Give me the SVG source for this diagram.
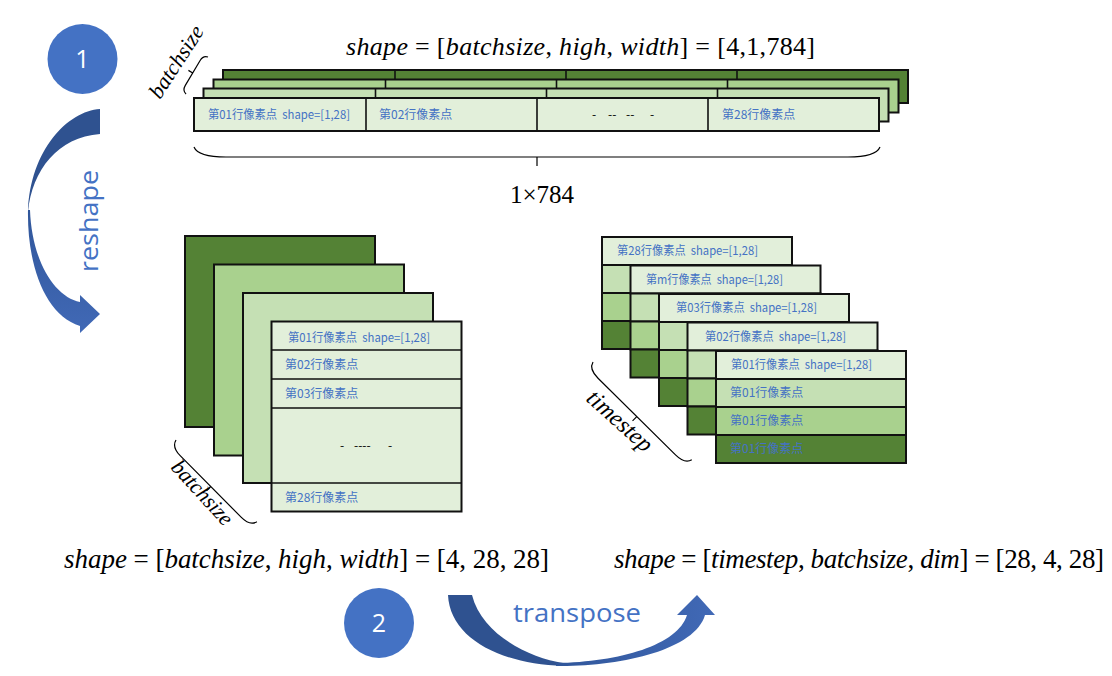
<svg xmlns="http://www.w3.org/2000/svg" width="1112" height="676" viewBox="0 0 1112 676">
<style>
.cell{stroke:#111;stroke-width:2}
.div{stroke:#111;stroke-width:1.6;fill:none}
.g1{fill:#e2efda}.g2{fill:#c5e0b4}.g3{fill:#a9d18e}.g4{fill:#548235}
.lbl{font-family:"Noto Sans CJK SC","Noto Sans",sans-serif;font-size:12px;fill:#4472c4}
.dash{font-family:"Noto Sans CJK SC","Noto Sans",sans-serif;font-size:12px;fill:#000}
.eq{font-family:"Liberation Serif","Times New Roman",serif;fill:#000}
.i{font-style:italic}
.brace{fill:none;stroke:#000;stroke-width:1.2}
.num{font-family:"Open Sans","Liberation Sans",sans-serif;font-size:25px;fill:#fff;text-anchor:middle}
.op{font-family:"Open Sans","Liberation Sans",sans-serif;font-size:25px;fill:#4472c4}
</style>
<defs>
<linearGradient id="gRes" x1="0" y1="0" x2="0" y2="1">
<stop offset="0" stop-color="#30569a"/><stop offset="1" stop-color="#4169b6"/>
</linearGradient>
<linearGradient id="gTr" x1="0" y1="0" x2="1" y2="0">
<stop offset="0" stop-color="#30569a"/><stop offset="1" stop-color="#4169b6"/>
</linearGradient>
</defs>
<rect width="1112" height="676" fill="#fff"/>

<!-- top equation -->
<g id="eq-top">
<text class="eq" x="346" y="55" font-size="26" textLength="469" lengthAdjust="spacing"><tspan class="i">shape</tspan> = [<tspan class="i">batchsize</tspan>, <tspan class="i">high</tspan>, <tspan class="i">width</tspan>] = [4,1,784]</text>
</g>

<!-- circle 1 -->
<g id="step1">
<circle cx="82.5" cy="59" r="35" fill="#4472c4"/>
<text class="num" x="82.5" y="68">1</text>
</g>

<!-- top strip -->
<g id="top-strip">
<rect class="cell g4" x="223" y="70" width="685" height="33"/>
<path class="div" d="M395,70V103M566,70V103M737,70V103"/>
<rect class="cell g3" x="213.5" y="79.5" width="685" height="33"/>
<path class="div" d="M385.5,79.5V112.5M556.5,79.5V112.5M727.5,79.5V112.5"/>
<rect class="cell g2" x="203.5" y="88.5" width="685" height="33"/>
<path class="div" d="M375.5,88.5V121.5M546.5,88.5V121.5M717.5,88.5V121.5"/>
<rect class="cell g1" x="194" y="98" width="685" height="33"/>
<path class="div" d="M366,98V131M537,98V131M708,98V131"/>
<text class="lbl" x="208" y="119" xml:space="preserve" textLength="142" lengthAdjust="spacingAndGlyphs">第01行像素点  shape=[1,28]</text>
<text class="lbl" x="379" y="119">第02行像素点</text>
<text class="dash" x="592" y="119">-</text>
<text class="dash" x="608" y="119">--</text>
<text class="dash" x="626" y="119">--</text>
<text class="dash" x="650" y="119">-</text>
<text class="lbl" x="722" y="119">第28行像素点</text>
</g>

<!-- batchsize label top -->
<g id="batch-top">
<path class="brace" transform="translate(208,57) rotate(120.7)" d="M0,0Q1,5 7,5L36,5Q42,5 43,0M21.5,5V10"/>
<text class="eq i" font-size="22" transform="translate(160,100) rotate(-57)" textLength="82" lengthAdjust="spacingAndGlyphs">batchsize</text>
</g>

<!-- 1x784 brace -->
<g id="brace-784">
<path class="brace" d="M194,147Q198,157 226,157L848,157Q876,157 880,147M537,157V166"/>
<text class="eq" x="542" y="203" font-size="25" text-anchor="middle">1×784</text>
</g>

<!-- connectors -->
<g id="connectors">
<g id="reshape-arrow">
<path d="M100,109C68,111 30,150 28,212C32,170 58,137 100,134Z" fill="#2f5290"/>
<path d="M28,210C27,265 45,315 80,326L80,333L100,314L80,295L80,302C55,297 32,262 30,210Z" fill="url(#gRes)"/>
<text class="op" transform="translate(98,272) rotate(-90)" textLength="102" lengthAdjust="spacingAndGlyphs">reshape</text>
</g>
<g id="transpose-arrow">
<path d="M448,595C450,638 500,664 563,666L563,663C530,658 482,635 472,595Z" fill="#2f5290"/>
<path d="M556,666C620,667 695,650 705,615L715,615L697,595L677,615L687,615C678,645 620,662 556,663Z" fill="url(#gTr)"/>
<text class="op" x="513" y="622" font-size="26" textLength="128" lengthAdjust="spacingAndGlyphs">transpose</text>
</g>
</g>

<!-- left stack -->
<g id="stack-left">
<rect class="cell g4" x="185" y="236" width="190" height="191"/>
<rect class="cell g3" x="214" y="264.5" width="190" height="191"/>
<rect class="cell g2" x="243" y="293" width="190" height="190"/>
<rect class="cell g1" x="271.5" y="321.5" width="190" height="190"/>
<path class="div" d="M271.5,350H461.5M271.5,379H461.5M271.5,408H461.5M271.5,483H461.5"/>
<text class="lbl" x="288" y="342" xml:space="preserve" textLength="142" lengthAdjust="spacingAndGlyphs">第01行像素点  shape=[1,28]</text>
<text class="lbl" x="285" y="369">第02行像素点</text>
<text class="lbl" x="285" y="398">第03行像素点</text>
<text class="dash" x="340" y="450">-</text>
<text class="dash" x="354" y="450">----</text>
<text class="dash" x="388" y="450">-</text>
<text class="lbl" x="285" y="502">第28行像素点</text>
</g>

<!-- batchsize label bottom -->
<g id="batch-left">
<path class="brace" transform="translate(176,440) rotate(45.3)" d="M0,0Q2,8 14,8L101,8Q113,8 115,0M57.5,8V14"/>
<text class="eq i" font-size="22" transform="translate(170,468) rotate(47.5)" textLength="80" lengthAdjust="spacingAndGlyphs">batchsize</text>
</g>

<!-- right stack -->
<g id="stack-right">
<g id="layer-28">
<rect class="cell g1" x="602" y="237" width="190" height="28"/>
<rect class="cell g2" x="602" y="265" width="190" height="28"/>
<rect class="cell g3" x="602" y="293" width="190" height="28"/>
<rect class="cell g4" x="602" y="321" width="190" height="28"/>
<text class="lbl" x="617" y="255" xml:space="preserve" textLength="141" lengthAdjust="spacingAndGlyphs">第28行像素点  shape=[1,28]</text>
</g>
<g id="layer-m">
<rect class="cell g1" x="630.5" y="265.5" width="190" height="28"/>
<rect class="cell g2" x="630.5" y="293.5" width="190" height="28"/>
<rect class="cell g3" x="630.5" y="321.5" width="190" height="28"/>
<rect class="cell g4" x="630.5" y="349.5" width="190" height="28"/>
<text class="lbl" x="646" y="284" xml:space="preserve" textLength="137" lengthAdjust="spacingAndGlyphs">第m行像素点  shape=[1,28]</text>
</g>
<g id="layer-03">
<rect class="cell g1" x="659" y="294" width="190" height="28"/>
<rect class="cell g2" x="659" y="322" width="190" height="28"/>
<rect class="cell g3" x="659" y="350" width="190" height="28"/>
<rect class="cell g4" x="659" y="378" width="190" height="28"/>
<text class="lbl" x="676" y="312" xml:space="preserve" textLength="141" lengthAdjust="spacingAndGlyphs">第03行像素点  shape=[1,28]</text>
</g>
<g id="layer-02">
<rect class="cell g1" x="687.5" y="322.5" width="190" height="28"/>
<rect class="cell g2" x="687.5" y="350.5" width="190" height="28"/>
<rect class="cell g3" x="687.5" y="378.5" width="190" height="28"/>
<rect class="cell g4" x="687.5" y="406.5" width="190" height="28"/>
<text class="lbl" x="705" y="341" xml:space="preserve" textLength="141" lengthAdjust="spacingAndGlyphs">第02行像素点  shape=[1,28]</text>
</g>
<g id="layer-01">
<rect class="cell g1" x="716" y="351" width="190" height="28"/>
<rect class="cell g2" x="716" y="379" width="190" height="28"/>
<rect class="cell g3" x="716" y="407" width="190" height="28"/>
<rect class="cell g4" x="716" y="435" width="190" height="28"/>
<text class="lbl" x="731" y="369" xml:space="preserve" textLength="141" lengthAdjust="spacingAndGlyphs">第01行像素点  shape=[1,28]</text>
<text class="lbl" x="730" y="397">第01行像素点</text>
<text class="lbl" x="730" y="425">第01行像素点</text>
<text class="lbl" x="730" y="453">第01行像素点</text>
</g>
</g>

<!-- timestep label -->
<g id="timestep-label">
<path class="brace" transform="translate(593,362) rotate(44.7)" d="M0,0Q2,8 15,8L124,8Q137,8 139,0M69.5,8V14"/>
<text class="eq i" font-size="24" transform="translate(585,400) rotate(42)" textLength="80" lengthAdjust="spacingAndGlyphs">timestep</text>
</g>

<!-- bottom equations -->
<g id="eq-left">
<text class="eq" x="64" y="568" font-size="27" textLength="485" lengthAdjust="spacing"><tspan class="i">shape</tspan> = [<tspan class="i">batchsize</tspan>, <tspan class="i">high</tspan>, <tspan class="i">width</tspan>] = [4, 28, 28]</text>
</g>
<g id="eq-right">
<text class="eq" x="614" y="568" font-size="27" textLength="490" lengthAdjust="spacing"><tspan class="i">shape</tspan> = [<tspan class="i">timestep</tspan>, <tspan class="i">batchsize</tspan>, <tspan class="i">dim</tspan>] = [28, 4, 28]</text>
</g>

<!-- circle 2 -->
<g id="step2">
<circle cx="379" cy="623" r="35" fill="#4472c4"/>
<text class="num" x="379" y="632">2</text>
</g>
</svg>
